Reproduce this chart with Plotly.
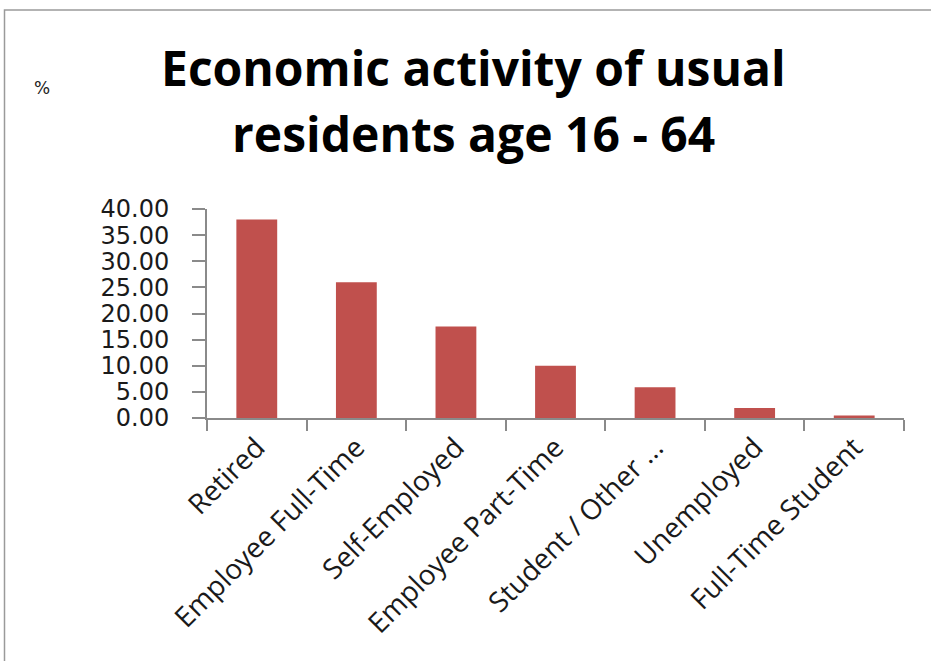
import plotly.graph_objects as go

categories = ["Retired", "Employee Full-Time", "Self-Employed", "Employee Part-Time",
              "Student / Other ...", "Unemployed", "Full-Time Student"]
values = [38.0, 26.0, 17.5, 10.0, 5.9, 1.9, 0.5]
y_ticks = [0, 5, 10, 15, 20, 25, 30, 35, 40]
title_lines = ["Economic activity of usual", "residents age 16 - 64"]
unit_label = "%"

W, H = 931, 661
L, R, T, B = 207, 27, 209, 243
pw, ph = W - L - R, H - T - B

def px_x(p):
    return (p - L) / pw

def px_y(p):
    return (H - B - p) / ph

fig = go.Figure(go.Bar(
    x=categories, y=values, width=0.41,
    marker=dict(color="#C0504D", line=dict(width=0)),
))

axis_col = "#8a8a8a"
title_font = dict(family="Open Sans", size=48, color="#000000", weight="bold")
annotations = [
    dict(text=title_lines[0], xref="paper", yref="paper", x=px_x(473), y=px_y(68),
         showarrow=False, xanchor="center", yanchor="middle", font=title_font),
    dict(text=title_lines[1], xref="paper", yref="paper", x=px_x(473), y=px_y(133),
         showarrow=False, xanchor="center", yanchor="middle", font=title_font),
    dict(text=unit_label, xref="paper", yref="paper",
         x=px_x(42), y=px_y(88), showarrow=False,
         xanchor="center", yanchor="middle",
         font=dict(family="DejaVu Sans", size=17, color="#222222")),
]

fig.update_layout(
    width=W, height=H, autosize=False,
    margin=dict(l=L, r=R, t=T, b=B),
    paper_bgcolor="white", plot_bgcolor="white",
    showlegend=False,
    xaxis=dict(range=[-0.5, 6.5], showline=True, linecolor=axis_col, linewidth=2,
               ticks="outside", ticklen=11, tickwidth=2, tickcolor=axis_col,
               tickson="boundaries", tickangle=-45, showgrid=False,
               tickfont=dict(family="Open Sans", size=28, color="#1a1a1a")),
    yaxis=dict(range=[0, 40], tickvals=y_ticks, tickformat=".2f",
               showline=True, linecolor=axis_col, linewidth=2,
               ticks="outside", ticklen=13, tickwidth=2, tickcolor=axis_col,
               showgrid=False, zeroline=False, ticklabelstandoff=18,
               tickfont=dict(family="DejaVu Sans", size=24, color="#1a1a1a")),
    annotations=annotations,
    shapes=[dict(type="rect", xref="paper", yref="paper",
                 x0=px_x(4.5), y0=px_y(H + 20), x1=px_x(W + 20), y1=px_y(10),
                 line=dict(color="#9a9a9a", width=1.5), fillcolor="rgba(0,0,0,0)",
                 layer="below")],
)

fig.write_html("out.html")
